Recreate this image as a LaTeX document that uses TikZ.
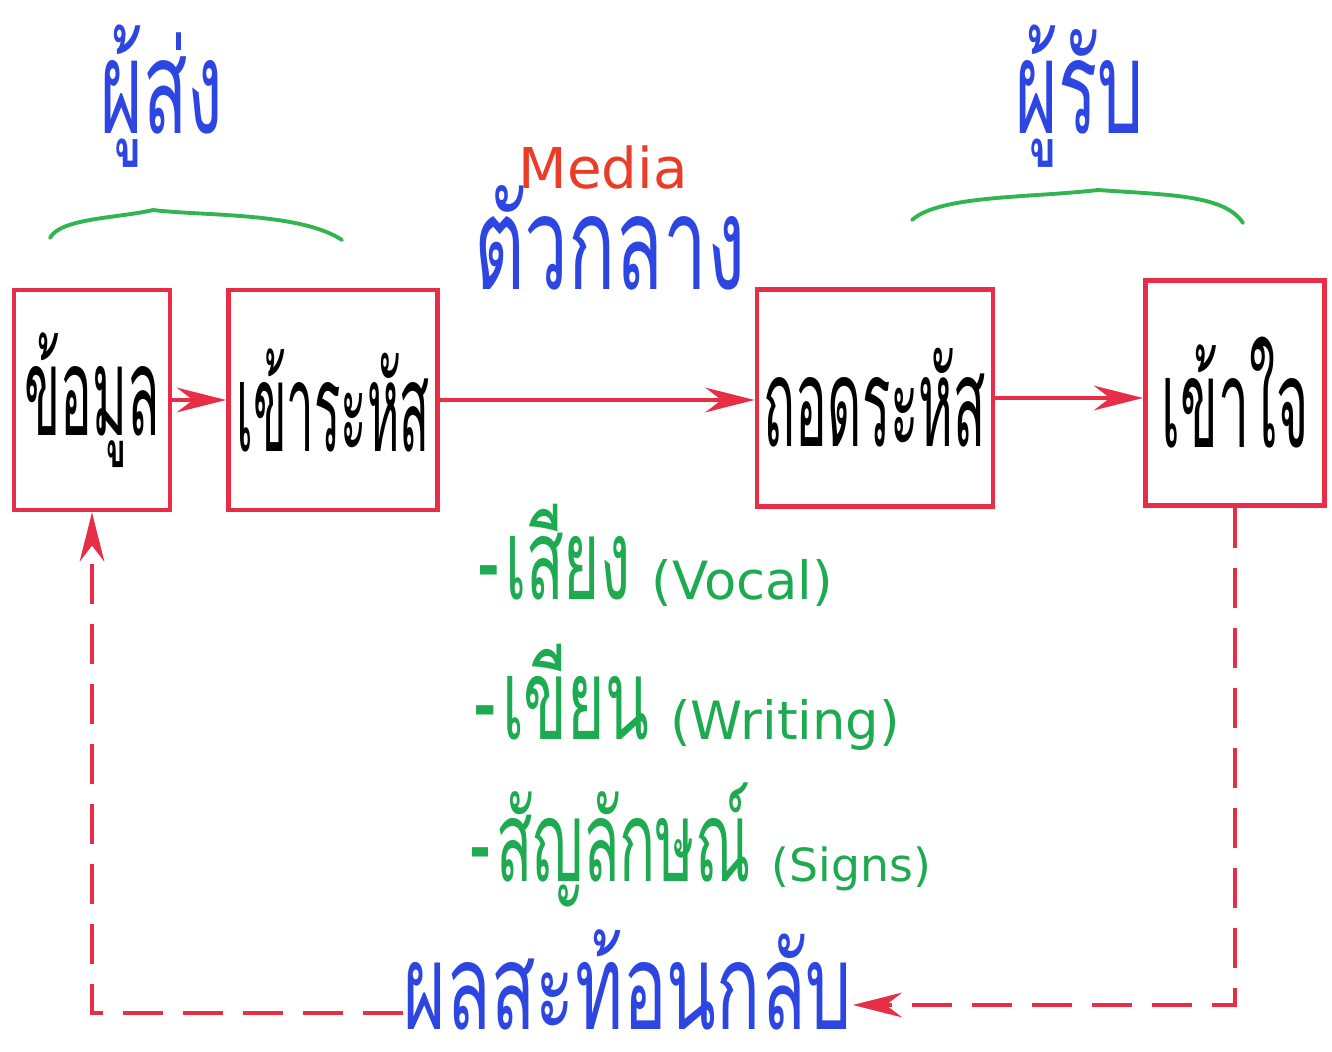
\documentclass[tikz,border=0pt]{standalone}
\usepackage{fontspec}
\usepackage{graphicx}
\newfontfamily\thaifont[Script=Thai]{Loma}
\newfontfamily\latinfont{DejaVu Sans}
\usetikzlibrary{arrows.meta}
\definecolor{boxred}{RGB}{232,45,70}
\definecolor{penblue}{RGB}{45,70,225}
\definecolor{pengreen}{RGB}{30,170,80}
\definecolor{bracegreen}{RGB}{50,180,80}
\definecolor{mediared}{RGB}{235,60,40}
\newcommand\tall[2]{\scalebox{#1}[1]{#2}}
\tikzset{
  stagebox/.style={draw=boxred, line width=1.3pt, inner sep=0pt, font=\thaifont\fontsize{35}{40}\selectfont, text=black},
  flow/.style={draw=boxred, line width=1.1pt, -{Stealth[length=14pt,width=7pt]}},
  feedback/.style={draw=boxred, line width=1.1pt, dash pattern=on 0.4cm off 0.2cm, -{Stealth[length=14pt,width=7pt]}},
  bluetitle/.style={text=penblue, font=\thaifont\fontsize{37}{42}\selectfont, inner sep=0pt},
  greenitem/.style={text=pengreen, font=\thaifont\fontsize{32}{38}\selectfont, inner sep=0pt, anchor=west},
  brace/.style={draw=bracegreen, line width=1.1pt, line cap=round}
}
\begin{document}
\begin{tikzpicture}[x=0.01cm,y=-0.01cm]
\useasboundingbox (0,0) rectangle (1332,1052);
\fill[white] (0,0) rectangle (1332,1052);
% boxes
\node[stagebox, minimum width=1.56cm, minimum height=2.2cm] (data) at (92,400) {\tall{0.43}{ข้อมูล}};
\node[stagebox, minimum width=2.09cm, minimum height=2.2cm] (enc) at (333,400) {\tall{0.40}{เข้าระหัส}};
\node[stagebox, minimum width=2.36cm, minimum height=2.17cm] (dec) at (875,398) {\tall{0.43}{ถอดระหัส}};
\node[stagebox, minimum width=1.79cm, minimum height=2.25cm] (und) at (1235,393) {\tall{0.45}{เข้าใจ}};
% flow arrows
\draw[flow] (data.east) -- (enc.west);
\draw[flow] (enc.east) -- (enc.east -| dec.west);
\draw[flow] (dec.east) -- (dec.east -| und.west);
% titles
\node[bluetitle] (sender) at (162,96) {\tall{0.56}{ผู้ส่ง}};
\node[bluetitle] (receiver) at (1080,96) {\tall{0.56}{ผู้รับ}};
\node[text=mediared, font=\latinfont\fontsize{16}{18}\selectfont, inner sep=0pt] (media) at (603,168) {Media};
\node[bluetitle] (medium) at (610,238) {\tall{0.6}{ตัวกลาง}};
% braces
\draw[brace] (50,238) .. controls (60,218) and (120,218) .. (153,210) .. controls (200,216) and (300,212) .. (342,240);
\draw[brace] (912,220) .. controls (940,195) and (1030,198) .. (1098,190) .. controls (1170,195) and (1225,195) .. (1243,223);
% media list
\node[greenitem] (vocal) at (478,555) {\tall{0.55}{-\hspace{3pt}เสียง}\hspace{6pt}{\latinfont\fontsize{15}{18}\selectfont(Vocal)}};
\node[greenitem] (writing) at (474,697) {\tall{0.57}{-\hspace{3pt}เขียน}\hspace{6pt}{\latinfont\fontsize{15}{18}\selectfont(Writing)}};
\node[greenitem] (signs) at (470,845) {\tall{0.53}{-\hspace{3pt}สัญลักษณ์}\hspace{6pt}{\latinfont\fontsize{13}{16}\selectfont(Signs)}};
% feedback
\node[bluetitle, anchor=base, text depth=0pt, font=\thaifont\fontsize{34}{38}\selectfont] (fb) at (628,1030) {\tall{0.61}{ผลสะท้อนกลับ}};
\draw[feedback] (und.south) |- ([yshift=0.25cm]fb.base east);
\draw[feedback] ([yshift=0.17cm]fb.base west) -| (data.south);
\end{tikzpicture}
\end{document}
